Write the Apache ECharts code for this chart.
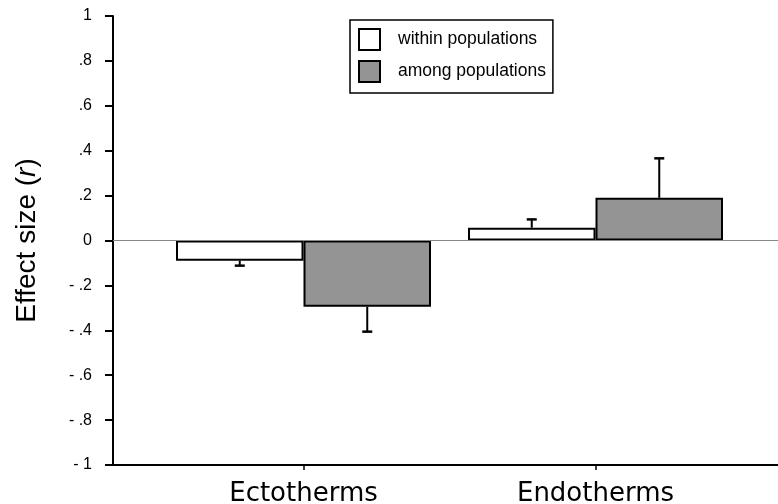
<!DOCTYPE html>
<html>
<head>
<meta charset="utf-8">
<script src="https://cdn.jsdelivr.net/npm/echarts@6/dist/echarts.min.js"></script>
<style>html,body{margin:0;padding:0;background:#fff}#c{width:778px;height:504px}</style>
</head>
<body>
<div id="c"></div>
<script>
// ---- data ----
var categories = ['Ectotherms', 'Endotherms'];
var seriesNames = ['within populations', 'among populations'];
var withinValues = [-0.09, 0.057];
var amongValues = [-0.295, 0.19];
var withinErrors = [0.022, 0.037];
var amongErrors = [0.111, 0.176];
var yTickValues = [-1, -0.8, -0.6, -0.4, -0.2, 0, 0.2, 0.4, 0.6, 0.8, 1];
var yTickLabels = ['- 1', '- .8', '- .6', '- .4', '- .2', '0', '.2', '.4', '.6', '.8', '1'];

// ---- styles ----
var FONT = 'Liberation Sans, Arial, Helvetica, sans-serif';
var BAR_W = 127.5;
var GRAY = '#949494';

var chart = echarts.init(document.getElementById('c'), null, {renderer: 'canvas'});

function errorRender(values, errors, side) {
  return function (params, api) {
    var i = api.value(0);
    var v = values[i];
    var e = errors[i];
    var s = v < 0 ? -1 : 1;
    var p0 = api.coord([i, v]);
    var p1 = api.coord([i, v + s * e]);
    var x = p0[0] + side * BAR_W / 2;
    return {
      type: 'group',
      children: [
        {type: 'line', shape: {x1: x, y1: p0[1], x2: x, y2: p1[1]}, style: {stroke: '#000', lineWidth: 2}},
        {type: 'line', shape: {x1: x - 5, y1: p1[1], x2: x + 5, y2: p1[1]}, style: {stroke: '#000', lineWidth: 2.5}}
      ]
    };
  };
}

var option = {
  backgroundColor: '#fff',
  animation: false,
  grid: [
    {left: 113, right: 0, top: 16, bottom: 39, outerBoundsMode: 'none', containLabel: false},
    {left: 157.5, right: 36.5, top: 16, bottom: 39, outerBoundsMode: 'none', containLabel: false}
  ],
  legend: {
    orient: 'vertical',
    left: 350, top: 20,
    padding: [8, 7, 10, 8],
    itemWidth: 21, itemHeight: 21, itemGap: 9,
    borderColor: '#000', borderWidth: 1.5,
    icon: 'rect',
    data: seriesNames,
    textStyle: {fontFamily: FONT, fontSize: 17.5, color: '#000', padding: [0, 0, 0, 13]}
  },
  xAxis: [
    {
      gridIndex: 0, type: 'value', min: 0, max: 1,
      splitLine: {show: false},
      axisLine: {show: true, onZero: false, lineStyle: {color: '#000', width: 2}},
      axisTick: {show: false},
      axisLabel: {show: false}
    },
    {
      gridIndex: 1, type: 'category', data: categories,
      axisLine: {show: false, onZero: false},
      axisTick: {show: true, alignWithLabel: true, length: 5, lineStyle: {color: '#000', width: 1.5}},
      axisLabel: {margin: 16, fontFamily: 'DejaVu Sans, sans-serif', fontSize: 26, color: '#000'}
    }
  ],
  yAxis: [
    {
      gridIndex: 0, type: 'value', min: -1, max: 1, interval: 0.2,
      splitLine: {show: false},
      axisLine: {show: true, lineStyle: {color: '#000', width: 2}},
      axisTick: {show: true, length: 8, lineStyle: {color: '#000', width: 2}},
      axisLabel: {
        margin: 21, fontFamily: FONT, fontSize: 16, color: '#000',
        formatter: function (v) {
          for (var k = 0; k < yTickValues.length; k++) {
            if (Math.abs(yTickValues[k] - v) < 1e-6) return yTickLabels[k];
          }
          return '';
        }
      },
      name: '{n|Effect size (}{i|r}{n|)}',
      nameLocation: 'middle', nameGap: 72,
      nameTextStyle: {
        rich: {
          n: {fontFamily: FONT, fontSize: 28, color: '#000'},
          i: {fontFamily: FONT, fontSize: 28, fontStyle: 'italic', color: '#000'}
        }
      }
    },
    {gridIndex: 1, type: 'value', min: -1, max: 1, show: false}
  ],
  series: [
    {
      type: 'line', xAxisIndex: 0, yAxisIndex: 0, data: [], silent: true, z: 1,
      markLine: {
        silent: true, symbol: 'none', label: {show: false},
        lineStyle: {color: '#888', width: 1.2, type: 'solid'},
        data: [{yAxis: 0}]
      }
    },
    {
      name: seriesNames[0], type: 'bar', xAxisIndex: 1, yAxisIndex: 1, z: 3,
      data: withinValues, barWidth: BAR_W, barGap: 0,
      itemStyle: {color: '#fff', borderColor: '#000', borderWidth: 2}
    },
    {
      name: seriesNames[1], type: 'bar', xAxisIndex: 1, yAxisIndex: 1, z: 3,
      data: amongValues, barWidth: BAR_W, barGap: 0,
      itemStyle: {color: GRAY, borderColor: '#000', borderWidth: 2}
    },
    {
      type: 'custom', xAxisIndex: 1, yAxisIndex: 1, z: 5,
      data: [[0], [1]],
      renderItem: errorRender(withinValues, withinErrors, -1)
    },
    {
      type: 'custom', xAxisIndex: 1, yAxisIndex: 1, z: 5,
      data: [[0], [1]],
      renderItem: errorRender(amongValues, amongErrors, 1)
    }
  ]
};
chart.setOption(option);
</script>
</body>
</html>
